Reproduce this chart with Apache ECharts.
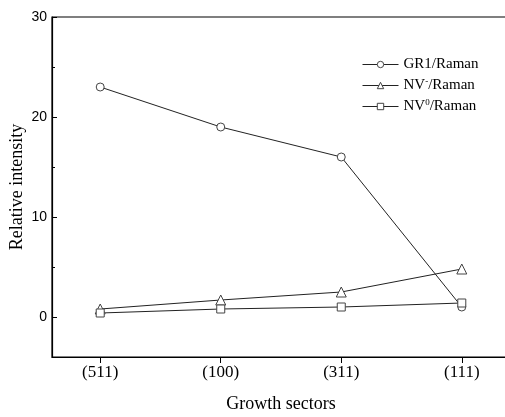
<!DOCTYPE html>
<html>
<head>
<meta charset="utf-8">
<script src="https://cdn.jsdelivr.net/npm/echarts@6/dist/echarts.min.js"></script>
<style>
  html, body { margin: 0; padding: 0; background: #fff; }
  #chart { width: 505px; height: 417px; }
</style>
</head>
<body>
<div id="chart"></div>
<script>
// Growth sectors along the x axis
const sectors = ['(511)', '(100)', '(311)', '(111)'];
// Relative intensity per sector
const gr1 = [23, 19, 16, 1.0];
const nvMinus = [0.8, 1.7, 2.5, 4.8];
const nvZero = [0.4, 0.8, 1.0, 1.4];
// Y axis tick labels and tick marks
const yLabels = [0, 10, 20, 30];
const yMinorTicks = [5, 15, 25];

const seriesNames = ['GR1/Raman', 'NV-/Raman', 'NV0/Raman'];
const legendText = {
  'GR1/Raman': 'GR1/Raman',
  'NV-/Raman': 'NV{sup|-}/Raman',
  'NV0/Raman': 'NV{sup|0}/Raman'
};

const pairs = arr => arr.map((v, i) => [i, v]);
const sectorIdx = sectors.map((_, i) => i);

const lineColor = '#222';
const markerColor = '#444';
const serif = '"Liberation Serif", "Times New Roman", serif';
const sans = '"Liberation Sans", Arial, sans-serif';

function makeSeries(name, data, symbol, size) {
  return {
    name: name,
    type: 'line',
    data: pairs(data),
    symbol: symbol,
    symbolSize: size,
    showAllSymbol: true,
    lineStyle: { color: lineColor, width: 1 },
    itemStyle: { color: '#fff', borderColor: markerColor, borderWidth: 1 },
    emphasis: { disabled: true },
    animation: false
  };
}

const chart = echarts.init(document.getElementById('chart'), null, { renderer: 'canvas' });
chart.setOption({
  backgroundColor: '#fff',
  animation: false,
  grid: {
    left: 52, top: 17, bottom: 60, right: -5,
    outerBoundsMode: 'none',
    containLabel: false,
    show: true, borderColor: '#000', borderWidth: 1.2, backgroundColor: 'transparent'
  },
  legend: {
    orient: 'vertical',
    left: 362,
    top: 57,
    padding: 0,
    itemWidth: 36,
    itemHeight: 8,
    itemGap: 5,
    selectedMode: false,
    data: seriesNames,
    formatter: name => legendText[name],
    itemStyle: { color: '#fff', borderColor: markerColor, borderWidth: 1 },
    lineStyle: { color: lineColor, width: 1 },
    textStyle: {
      fontFamily: serif, fontSize: 15, color: '#000', lineHeight: 15, padding: [0, 0, 0, 0],
      rich: {
        sup: { fontFamily: serif, fontSize: 9, color: '#000', verticalAlign: 'bottom', padding: [0, 0, 7, 0] }
      }
    }
  },
  xAxis: {
    type: 'value',
    min: -0.4,
    max: 3.4,
    name: 'Growth sectors',
    nameLocation: 'middle',
    nameGap: 38,
    nameMoveOverlap: false,
    nameTextStyle: { fontFamily: serif, fontSize: 18, color: '#000', verticalAlign: 'top' },
    splitLine: { show: false },
    axisLine: { onZero: false, lineStyle: { color: '#000', width: 1.2 } },
    axisTick: { show: true, inside: false, length: 6, customValues: sectorIdx, lineStyle: { color: '#000', width: 1 } },
    axisLabel: {
      customValues: sectorIdx,
      formatter: v => sectors[Math.round(v)],
      fontFamily: serif, fontSize: 17, color: '#000', margin: 7
    }
  },
  yAxis: [
    {
      type: 'value',
      min: -4,
      max: 30,
      name: 'Relative intensity',
      nameLocation: 'middle',
      nameGap: 26,
      nameMoveOverlap: false,
      nameTextStyle: { fontFamily: serif, fontSize: 18, color: '#000' },
      splitLine: { show: false },
      axisLine: { onZero: false, lineStyle: { color: '#000', width: 1.2 } },
      axisTick: { show: true, inside: true, length: 5, customValues: yLabels, lineStyle: { color: '#000', width: 1 } },
      axisLabel: { customValues: yLabels, fontFamily: sans, fontSize: 14, color: '#000', margin: 5 }
    },
    {
      type: 'value',
      min: -4,
      max: 30,
      position: 'left',
      offset: 0,
      splitLine: { show: false },
      axisLine: { show: false, onZero: false },
      axisTick: { show: true, inside: true, length: 3, customValues: yMinorTicks, lineStyle: { color: '#000', width: 1 } },
      axisLabel: { show: false }
    }
  ],
  series: [
    makeSeries(seriesNames[0], gr1, 'circle', 8),
    makeSeries(seriesNames[1], nvMinus, 'triangle', 10),
    makeSeries(seriesNames[2], nvZero, 'rect', 8)
  ]
});
</script>
</body>
</html>
